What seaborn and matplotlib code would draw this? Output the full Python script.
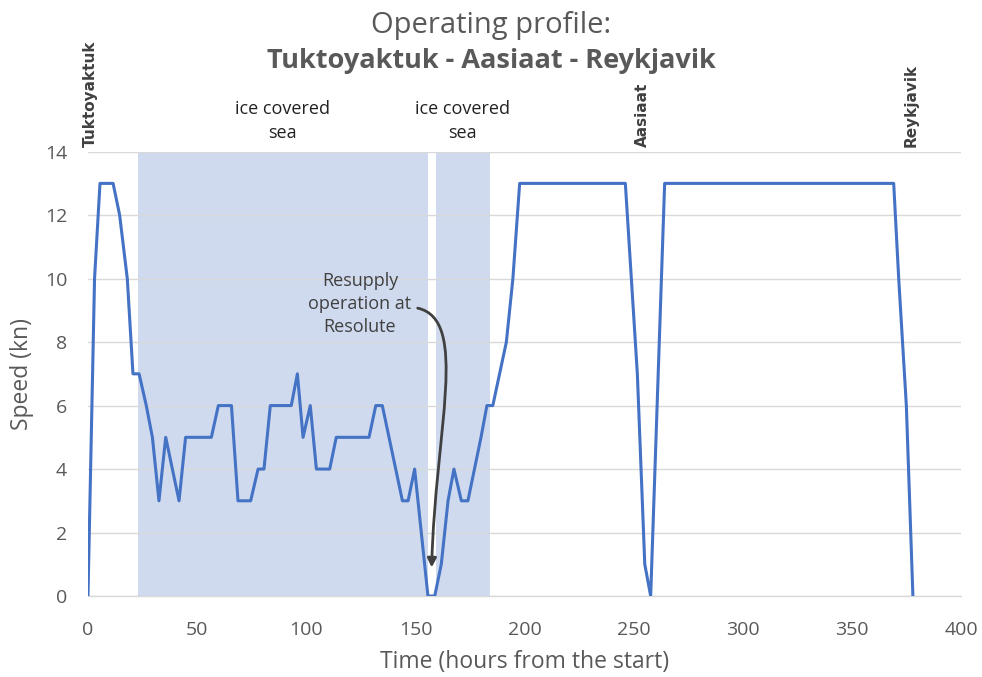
import matplotlib
matplotlib.use("Agg")
import matplotlib.pyplot as plt
import matplotlib.transforms as mtransforms
from matplotlib.path import Path
from matplotlib.patches import FancyArrowPatch
import seaborn as sns
import pandas as pd

# ---- data ----
hours = [0, 3, 5.5, 11.5, 14.5, 18, 20.6, 23.4, 26.7, 29.5, 32.5, 35.6, 41.7, 44.7,
         56.5, 59.7, 65.7, 68.7, 74.5, 77.9, 80.6, 83.5, 93.1, 95.9, 98.5, 101.8,
         104.6, 110.7, 113.7, 128.7, 131.8, 134.8, 144, 146.6, 149.6, 155.7, 158.8,
         161.8, 164.9, 167.6, 171, 174, 177, 180, 182.7, 185.4, 191.6, 194.6, 197.7,
         246.1, 251.6, 255, 257.7, 264.1, 369, 371.3, 374.8, 377.8]
speed = [0, 10, 13, 13, 12, 10, 7, 7, 6, 5, 3, 5, 3, 5,
         5, 6, 6, 3, 3, 4, 4, 6, 6, 7, 5, 6,
         4, 4, 5, 5, 6, 6, 3, 3, 4, 0, 0,
         1, 3, 4, 3, 3, 4, 5, 6, 6, 8, 10, 13,
         13, 7, 1, 0, 13, 13, 10, 6, 0]

ice_start = [23, 159.6]
ice_end = [155.6, 184.3]
ice_label = ["ice covered\nsea", "ice covered\nsea"]
ice_label_x = [89, 171.6]

ports = ["Tuktoyaktuk", "Aasiaat", "Reykjavik"]
port_x = [1, 254, 377]

note_text = "Resupply\noperation at\nResolute"
note_xy = (124.6, 9.2)
arrow_pts = [(151.0, 9.07), (174.8, 8.7), (159.0, 5.23), (157.4, 0.9)]

x_ticks = [0, 50, 100, 150, 200, 250, 300, 350, 400]
y_ticks = [0, 2, 4, 6, 8, 10, 12, 14]

df = pd.DataFrame({"hours": hours, "speed": speed})

# ---- style ----
sns.set_style("white")
plt.rcParams["font.family"] = ["Open Sans", "DejaVu Sans"]
grey = "#595959"

fig = plt.figure(figsize=(9.82, 6.77), dpi=100)
ax = fig.add_axes([0.0896, 0.1196, 0.8894, 0.6564])

for s, e in zip(ice_start, ice_end):
    ax.axvspan(s, e, color="#cfdaef", zorder=0, lw=0)

sns.lineplot(data=df, x="hours", y="speed", ax=ax, color="#4472C4",
             linewidth=2.2, estimator=None, sort=False, zorder=3)

ax.set_xlim(0, 400)
ax.set_ylim(0, 14)
ax.set_xticks(x_ticks)
ax.set_yticks(y_ticks)
ax.yaxis.grid(True, color="#d9d9d9", linewidth=1.0, zorder=1)
ax.xaxis.grid(False)
ax.set_axisbelow(True)
for sp in ["left", "right", "top"]:
    ax.spines[sp].set_visible(False)
ax.spines["bottom"].set_color("#d9d9d9")
ax.spines["bottom"].set_linewidth(1.0)
ax.tick_params(axis="both", length=0, labelsize=14, labelcolor=grey)
ax.tick_params(axis="x", pad=18)
ax.tick_params(axis="y", pad=15)

ax.set_xlabel("Time (hours from the start)", fontsize=16.5, color=grey, labelpad=8)
ax.set_ylabel("Speed (kn)", fontsize=16.5, color=grey, labelpad=8)

trans = mtransforms.blended_transform_factory(ax.transData, ax.transAxes)
for lab, xv in zip(ice_label, ice_label_x):
    ax.text(xv, 1.069, lab, transform=trans, ha="center", va="center",
            fontsize=13, color="#222222", linespacing=1.45)

for name, xv in zip(ports, port_x):
    ax.text(xv, 1.01, name, transform=trans, ha="center", va="bottom",
            rotation=90, fontsize=11, fontweight="bold", color="#404040",
            family="DejaVu Sans")

ax.text(note_xy[0], note_xy[1], note_text, ha="center", va="center",
        fontsize=13, color="#404040", linespacing=1.35, zorder=5)
arrow_path = Path(arrow_pts, [Path.MOVETO, Path.CURVE4, Path.CURVE4, Path.CURVE4])
arrow = FancyArrowPatch(path=arrow_path, arrowstyle="-|>", color="#404040",
                        lw=2, mutation_scale=13, zorder=5)
ax.add_patch(arrow)

fig.text(0.5, 1 - 25 / 677, "Operating profile:", ha="center", va="center",
         fontsize=21, color=grey)
fig.text(0.5, 1 - 61 / 677, "Tuktoyaktuk - Aasiaat - Reykjavik", ha="center",
         va="center", fontsize=19.5, fontweight="bold", color=grey)

fig.savefig("out.png", dpi=100)
